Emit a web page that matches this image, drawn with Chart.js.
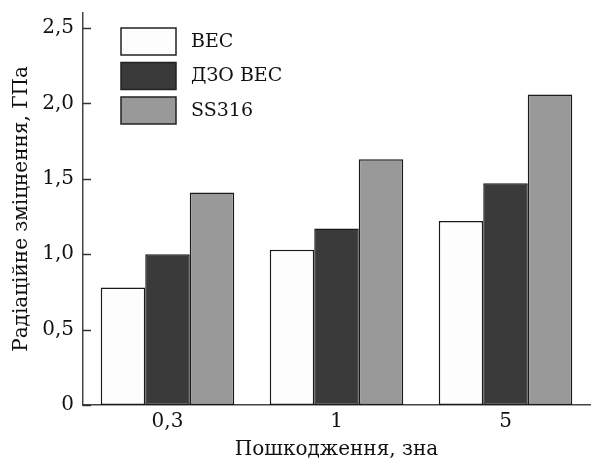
<!DOCTYPE html>
<html>
<head>
<meta charset="utf-8">
<script src="https://cdn.jsdelivr.net/npm/chart.js@4/dist/chart.umd.min.js"></script>
<style>
  html, body { margin: 0; padding: 0; background: #fff; }
  #wrap { width: 594px; height: 462px; }
</style>
</head>
<body>
<div id="wrap"><canvas id="chart" width="594" height="462"></canvas></div>
<script>
const categories = ['0,3', '1', '5'];
const seriesNames = ['ВЕС', 'ДЗО ВЕС', 'SS316'];
const valuesBEC = [0.78, 1.03, 1.22];
const valuesDZO = [1.00, 1.17, 1.47];
const valuesSS = [1.41, 1.63, 2.06];
const yTicks = [0, 0.5, 1.0, 1.5, 2.0, 2.5];

const fills = ['#fdfdfd', '#3a3a3a', '#999999'];
const serif = "'DejaVu Serif', 'Liberation Serif', serif";

// inward tick marks on the y axis
const innerTicks = {
  id: 'innerTicks',
  afterDraw(chart) {
    const { ctx, chartArea, scales: { y } } = chart;
    ctx.save();
    ctx.strokeStyle = '#333';
    ctx.lineWidth = 1.5;
    yTicks.forEach(v => {
      const py = Math.round(y.getPixelForValue(v)) + 0.5;
      ctx.beginPath();
      ctx.moveTo(chartArea.left, py);
      ctx.lineTo(chartArea.left + 8, py);
      ctx.stroke();
    });
    ctx.restore();
  }
};

// legend drawn inside the plot
const boxLegend = {
  id: 'boxLegend',
  afterDraw(chart) {
    const { ctx, chartArea } = chart;
    ctx.save();
    ctx.font = '19px ' + serif;
    ctx.textBaseline = 'middle';
    seriesNames.forEach((name, i) => {
      const x = chartArea.left + 38;
      const top = chartArea.top + 15 + i * 34.5;
      ctx.fillStyle = fills[i];
      ctx.fillRect(x, top, 55, 27);
      ctx.strokeStyle = '#222';
      ctx.lineWidth = 1.5;
      ctx.strokeRect(x, top, 55, 27);
      ctx.fillStyle = '#111';
      ctx.fillText(name, x + 70, top + 14);
    });
    ctx.restore();
  }
};

const datasets = [valuesBEC, valuesDZO, valuesSS].map((vals, i) => ({
  label: seriesNames[i],
  data: vals,
  backgroundColor: fills[i],
  borderColor: '#1a1a1a',
  borderWidth: 1.5,
  borderSkipped: false,
  categoryPercentage: 0.79,
  barPercentage: 1.0
}));

new Chart(document.getElementById('chart'), {
  type: 'bar',
  data: { labels: categories, datasets },
  options: {
    responsive: false,
    animation: false,
    layout: { padding: { left: 0, right: 4, top: 13, bottom: 0 } },
    plugins: { legend: { display: false }, tooltip: { enabled: false } },
    scales: {
      x: {
        grid: { display: false, drawTicks: false },
        border: { display: true, color: '#444', width: 1.5 },
        ticks: { color: '#111', font: { family: serif, size: 20 }, padding: 5 },
        title: {
          display: true,
          text: 'Пошкодження, зна',
          color: '#111',
          font: { family: serif, size: 20 },
          padding: { top: 3, bottom: 0 }
        },
        afterFit: s => { s.height = 57; s.paddingLeft = 0; s.paddingRight = 0; }
      },
      y: {
        min: 0,
        max: 2.6,
        afterBuildTicks: s => { s.ticks = yTicks.map(v => ({ value: v })); },
        grid: { display: false, drawTicks: false },
        border: { display: true, color: '#444', width: 1.5 },
        ticks: {
          color: '#111',
          font: { family: serif, size: 20 },
          padding: 9,
          callback: v => v === 0 ? '0' : v.toFixed(1).replace('.', ',')
        },
        title: {
          display: true,
          text: 'Радіаційне зміцнення, ГПа',
          color: '#111',
          font: { family: serif, size: 20 },
          padding: { top: 10, bottom: 4 }
        },
        afterFit: s => { s.width = 83; s.paddingTop = 0; s.paddingBottom = 0; }
      }
    }
  },
  plugins: [innerTicks, boxLegend]
});
</script>
</body>
</html>
